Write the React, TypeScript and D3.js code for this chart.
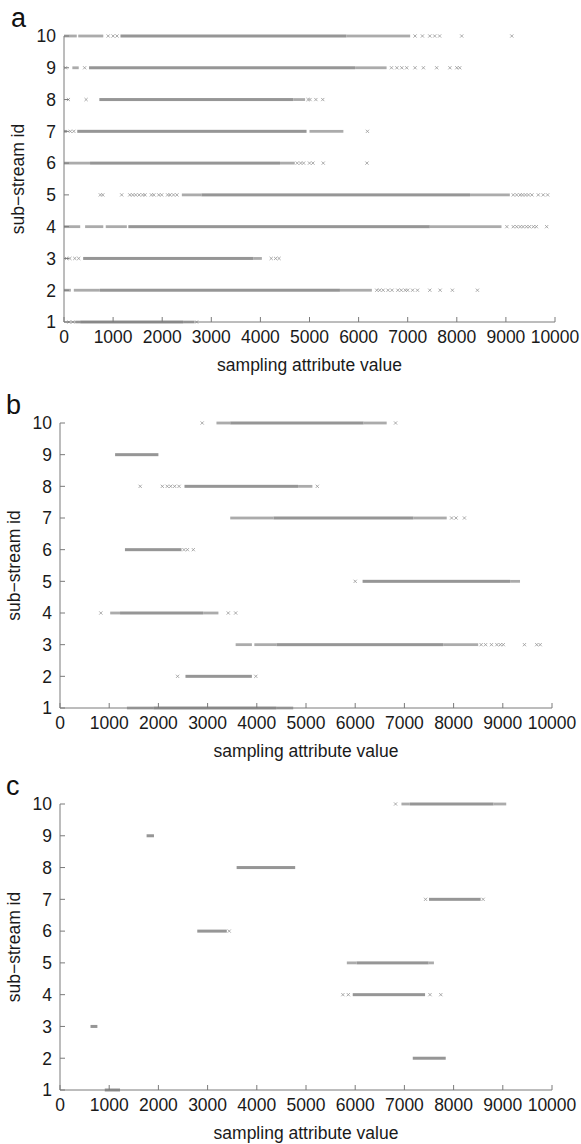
import React from "react";
import * as d3 from "d3";

// Axis ticks shared by all three panels
const xTicks = [0, 1000, 2000, 3000, 4000, 5000, 6000, 7000, 8000, 9000, 10000];
const yTicks = [1, 2, 3, 4, 5, 6, 7, 8, 9, 10];

// Panel a: [stream id, start, end] for dense runs, [stream id, value] for isolated samples
const aSolid: [number, number, number][] = [
  [10, 1150, 5750], [9, 510, 5930], [8, 720, 4670], [7, 270, 4940], [6, 530, 4400],
  [5, 2800, 8270], [4, 1310, 7450], [3, 390, 3860], [2, 730, 5620], [1, 330, 2430],
];
const aLight: [number, number, number][] = [
  [10, 0, 260], [10, 290, 800], [10, 5750, 7050],
  [9, 170, 300], [9, 5930, 6570],
  [8, 4670, 4910],
  [7, 0, 60], [7, 5000, 5690],
  [6, 0, 530], [6, 4400, 4700],
  [5, 2400, 2800], [5, 8270, 9080],
  [4, 0, 330], [4, 430, 800], [4, 850, 1280], [4, 7450, 8910],
  [3, 3860, 4030],
  [2, 0, 140], [2, 200, 730], [2, 5620, 6270],
  [1, 230, 330], [1, 2430, 2650],
];
const aPoints: [number, number][] = [
  [10, 900], [10, 1000], [10, 1080], [10, 7150], [10, 7300], [10, 7450], [10, 7550], [10, 7650], [10, 8100], [10, 9120],
  [9, 30], [9, 420], [9, 6670], [9, 6780], [9, 6880], [9, 6980], [9, 7150], [9, 7320], [9, 7590], [9, 7860], [9, 8000], [9, 8060],
  [8, 90], [8, 450], [8, 4970], [8, 5010], [8, 5130], [8, 5270],
  [7, 130], [7, 200], [7, 6180],
  [6, 4750], [6, 4820], [6, 4880], [6, 5000], [6, 5070], [6, 5280], [6, 6170],
  [5, 740], [5, 790], [5, 1175], [5, 1340], [5, 1400], [5, 1460], [5, 1530], [5, 1600], [5, 1650], [5, 1780], [5, 1830],
  [5, 1930], [5, 1990], [5, 2110], [5, 2160], [5, 2230], [5, 2300],
  [5, 9150], [5, 9220], [5, 9290], [5, 9340], [5, 9400], [5, 9460], [5, 9530], [5, 9660], [5, 9760], [5, 9850],
  [4, 9020], [4, 9150], [4, 9220], [4, 9290], [4, 9350], [4, 9420], [4, 9480], [4, 9560], [4, 9620], [4, 9830],
  [3, 50], [3, 120], [3, 220], [3, 300], [3, 4220], [3, 4310], [3, 4380],
  [2, 6370], [2, 6430], [2, 6500], [2, 6600], [2, 6680], [2, 6800], [2, 6870], [2, 6950], [2, 7000], [2, 7100], [2, 7200],
  [2, 7450], [2, 7660], [2, 7910], [2, 8420],
  [1, 100], [1, 180], [1, 2700],
];

// Panel b
const bSolid: [number, number, number][] = [
  [10, 3460, 6170], [9, 1120, 2000], [8, 2530, 4840], [7, 4340, 7180], [6, 1320, 2470],
  [5, 6150, 9150], [4, 1220, 2910], [3, 4400, 7790], [2, 2550, 3900], [1, 1900, 4400],
];
const bLight: [number, number, number][] = [
  [10, 3180, 3460], [10, 6170, 6640],
  [8, 4840, 5130],
  [7, 3460, 4340], [7, 7180, 7860],
  [5, 9150, 9350],
  [4, 1020, 1220], [4, 2910, 3220],
  [3, 3570, 3900], [3, 3950, 4400], [3, 7790, 8500],
  [1, 1360, 1900], [1, 4400, 4740],
];
const bPoints: [number, number][] = [
  [10, 2890], [10, 6820],
  [8, 1630], [8, 2080], [8, 2180], [8, 2250], [8, 2330], [8, 2420], [8, 5230],
  [7, 7960], [7, 8050], [7, 8220],
  [6, 2520], [6, 2590], [6, 2710],
  [5, 6000],
  [4, 830], [4, 3420], [4, 3570],
  [3, 8560], [3, 8650], [3, 8770], [3, 8880], [3, 8950], [3, 9010], [3, 9440], [3, 9690], [3, 9760],
  [2, 2390], [2, 3980],
];

// Panel c
const cSolid: [number, number, number][] = [
  [10, 7110, 8810], [9, 1760, 1910], [8, 3590, 4780], [7, 7500, 8550], [6, 2790, 3390],
  [5, 6030, 7490], [4, 5950, 7420], [3, 620, 760], [2, 7170, 7840], [1, 910, 1220],
];
const cLight: [number, number, number][] = [
  [10, 6940, 7110], [10, 8810, 9070],
  [5, 5830, 6030], [5, 7490, 7600],
];
const cPoints: [number, number][] = [
  [10, 6820], [7, 7430], [7, 8600], [6, 3440], [4, 5750], [4, 5860], [4, 7520], [4, 7740],
];

const FONT = "'Liberation Sans', Arial, Helvetica, sans-serif";
const AXIS = "#7a7a7a";
const MARK = "#969696";
const MARK_LIGHT = "#ababab";

type PanelProps = {
  label: string;
  left: number;
  right: number;
  top: number;
  bottom: number;
  labelX: number;
  labelY: number;
  titleX: number;
  solid: [number, number, number][];
  light: [number, number, number][];
  points: [number, number][];
};

function Panel(p: PanelProps) {
  const x = d3.scaleLinear().domain([0, 10000]).range([p.left, p.right]);
  const y = d3.scaleLinear().domain([1, 10]).range([p.bottom, p.top]);
  const cross = "M-1.6,-1.6L1.6,1.6M-1.6,1.6L1.6,-1.6";
  return (
    <g>
      <text x={p.labelX} y={p.labelY} fontSize={27} fontFamily={FONT} fill="#111">
        {p.label}
      </text>
      {/* sparser runs */}
      {p.light.map(([id, s, e], i) => (
        <rect key={"l" + i} x={x(s)} y={y(id) - 1.4} width={x(e) - x(s)} height={2.8} fill={MARK_LIGHT} />
      ))}
      {/* dense runs */}
      {p.solid.map(([id, s, e], i) => (
        <rect key={"s" + i} x={x(s)} y={y(id) - 1.5} width={x(e) - x(s)} height={3} fill={MARK} />
      ))}
      {/* isolated samples */}
      {p.points.map(([id, v], i) => (
        <path key={"p" + i} d={cross} transform={`translate(${x(v)},${y(id)})`} stroke={MARK} strokeWidth={0.8} fill="none" />
      ))}
      {/* axes */}
      <line x1={p.left} x2={p.right} y1={p.bottom} y2={p.bottom} stroke={AXIS} strokeWidth={1} />
      <line x1={p.left} x2={p.left} y1={p.top} y2={p.bottom} stroke={AXIS} strokeWidth={1} />
      {xTicks.map((t) => (
        <g key={"xt" + t}>
          <line x1={x(t)} x2={x(t)} y1={p.bottom} y2={p.bottom - 5} stroke={AXIS} strokeWidth={1} />
          <text x={x(t)} y={p.bottom + 21} textAnchor="middle" fontSize={17.5} fontFamily={FONT} fill="#1a1a1a">
            {t}
          </text>
        </g>
      ))}
      {yTicks.map((t) => (
        <g key={"yt" + t}>
          <line x1={p.left} x2={p.left + 5} y1={y(t)} y2={y(t)} stroke={AXIS} strokeWidth={1} />
          <text x={p.left - 8} y={y(t)} dy="0.36em" textAnchor="end" fontSize={17.5} fontFamily={FONT} fill="#1a1a1a">
            {t}
          </text>
        </g>
      ))}
      <text
        x={(p.left + p.right) / 2}
        y={p.bottom + 49}
        textAnchor="middle"
        fontSize={17.5}
        fontFamily={FONT}
        fill="#1a1a1a"
      >
        sampling attribute value
      </text>
      <text
        transform={`translate(${p.titleX},${(p.top + p.bottom) / 2}) rotate(-90)`}
        textAnchor="middle"
        fontSize={17.5}
        fontFamily={FONT}
        fill="#1a1a1a"
      >
        sub−stream id
      </text>
    </g>
  );
}

export default function App() {
  return (
    <svg
      width={581}
      height={1144}
      viewBox="0 0 581 1144"
      style={{ position: "absolute", left: 0, top: 0, background: "#fff" }}
    >
      <rect width={581} height={1144} fill="#fff" />
      <Panel label="a" left={64} right={555} top={36} bottom={322} labelX={11} labelY={27}
        titleX={24} solid={aSolid} light={aLight} points={aPoints} />
      <Panel label="b" left={60} right={552} top={423} bottom={708} labelX={6} labelY={414}
        titleX={20} solid={bSolid} light={bLight} points={bPoints} />
      <Panel label="c" left={60} right={552} top={804} bottom={1090} labelX={6} labelY={795}
        titleX={20} solid={cSolid} light={cLight} points={cPoints} />
    </svg>
  );
}
